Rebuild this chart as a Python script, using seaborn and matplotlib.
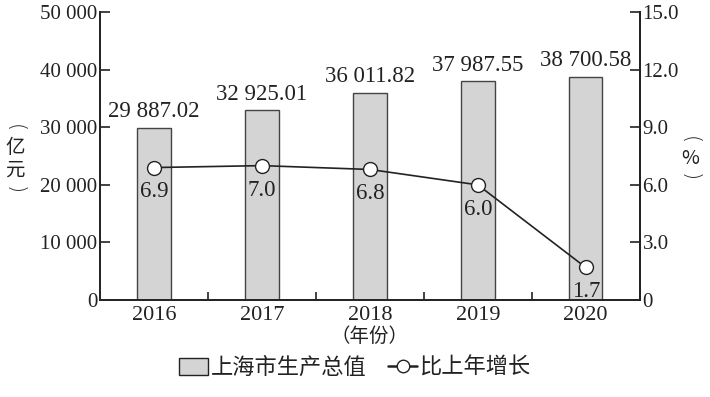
import numpy as np
import pandas as pd
import seaborn as sns
import matplotlib.pyplot as plt
from matplotlib.patches import Patch
from matplotlib.lines import Line2D

years = ['2016', '2017', '2018', '2019', '2020']
gdp = [29887.02, 32925.01, 36011.82, 37987.55, 38700.58]
growth = [6.9, 7.0, 6.8, 6.0, 1.7]
gdp_labels = ['29 887.02', '32 925.01', '36 011.82', '37 987.55', '38 700.58']
left_ticks = [0, 10000, 20000, 30000, 40000, 50000]
left_ticklabels = ['0', '10 000', '20 000', '30 000', '40 000', '50 000']
right_ticks = [0, 3, 6, 9, 12, 15]
right_ticklabels = ['0', '3.0', '6.0', '9.0', '12.0', '15.0']

sns.set_theme(style='ticks')
plt.rcParams['font.family'] = ['Liberation Serif', 'Noto Sans CJK SC']
plt.rcParams['axes.linewidth'] = 1.4

INK = '#222222'
CJK = ['Noto Sans CJK SC']

df = pd.DataFrame({'year': years, 'gdp': gdp, 'growth': growth})

fig = plt.figure(figsize=(7.1, 3.97), dpi=100)
ax = fig.add_axes([0.141, 0.244, 0.76, 0.726])

# 柱状图：生产总值
sns.barplot(data=df, x='year', y='gdp', ax=ax, color='#d4d4d4',
            edgecolor='#444444', linewidth=1.0, width=0.31, saturation=1)
ax.bar_label(ax.containers[0], labels=gdp_labels, padding=4, fontsize=16.5,
             color=INK)
ax.set_ylim(0, 50000)
ax.set_xlim(-0.5, 4.5)
ax.set_yticks(left_ticks)
ax.set_yticklabels(left_ticklabels, fontsize=15, color=INK)
ax.set_xticks(range(len(years)))
ax.set_xticklabels(years, fontsize=16, color=INK)
ax.set_xticks([0.5, 1.5, 2.5, 3.5], minor=True)
ax.tick_params(axis='x', which='major', length=0, pad=4)
ax.tick_params(axis='x', which='minor', direction='in', length=6, width=1.2,
               color=INK)
ax.tick_params(axis='y', direction='in', length=7, width=1.2, color=INK, pad=2)
ax.set_xlabel('（年份）', fontsize=14, family=CJK, labelpad=1, color=INK)
ax.set_ylabel('')
ax.spines['top'].set_visible(False)
for s in ['left', 'bottom', 'right']:
    ax.spines[s].set_color(INK)

# 折线图：比上年增长
ax2 = ax.twinx()
sns.lineplot(x=np.arange(len(years)), y=growth, ax=ax2, color=INK,
             linewidth=1.2, marker='o', markersize=10, markerfacecolor='white',
             markeredgecolor=INK, markeredgewidth=1.0)
for i, v in enumerate(growth):
    ax2.annotate(f'{v:.1f}', (i, v), xytext=(0, -10), textcoords='offset points',
                 ha='center', va='top', fontsize=16.5, color=INK)
ax2.set_ylim(0, 15)
ax2.set_yticks(right_ticks)
ax2.set_yticklabels(right_ticklabels, fontsize=15, color=INK)
ax2.tick_params(axis='y', direction='in', length=7, width=1.2, color=INK, pad=2)
ax2.spines['top'].set_visible(False)
ax2.spines['right'].set_color(INK)

# 纵向单位标注（竖排）
def vertical_label(x, ys, chars):
    for y, ch in zip(ys, chars):
        if ch in '()':
            fig.text(x, 1 - y / 397, ch, family=['DejaVu Sans'], fontsize=15,
                     rotation=-90, ha='center', va='center', color=INK,
                     fontweight='light')
        else:
            fig.text(x, 1 - y / 397, ch, family=CJK, fontsize=14,
                     ha='center', va='center', color=INK)

vertical_label(15 / 710, [128, 147, 170, 190], ['(', '亿', '元', ')'])
vertical_label(690 / 710, [140, 158, 177], ['(', '%', ')'])

# 图例
handles = [
    Patch(facecolor='#d4d4d4', edgecolor=INK, linewidth=1.0),
    Line2D([0], [0], color=INK, linewidth=1.8, marker='o', markersize=9,
           markerfacecolor='white', markeredgecolor=INK),
]
fig.legend(handles, ['上海市生产总值', '比上年增长'], loc='center',
           bbox_to_anchor=(0.5, 0.075), ncol=2, frameon=False,
           prop={'family': CJK, 'size': 16}, handlelength=1.3,
           handletextpad=0.1, columnspacing=1.0, handleheight=0.8,
           labelcolor=INK)

fig.savefig('out.png', dpi=100)
